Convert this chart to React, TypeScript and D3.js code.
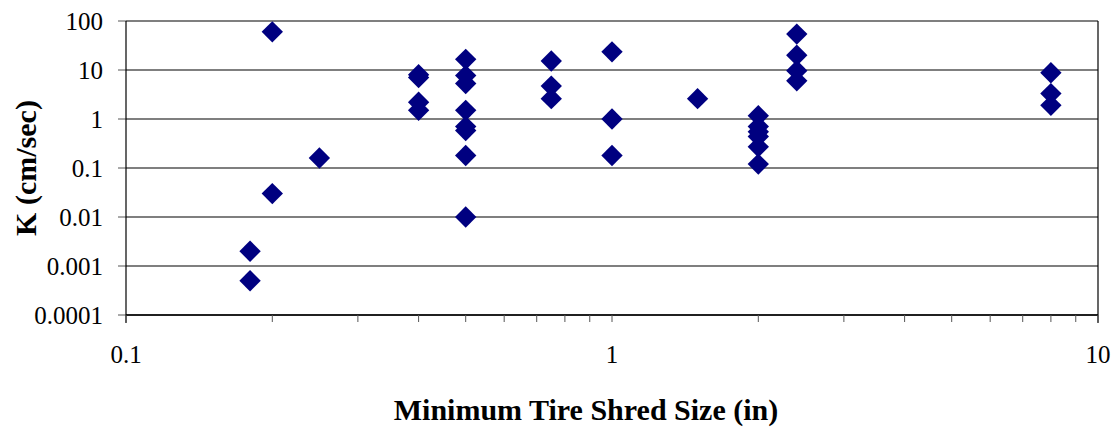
import React from "react";
import * as d3 from "d3";

const shredSize: number[] = [
  0.18, 0.18,
  0.2, 0.2,
  0.25,
  0.4, 0.4, 0.4, 0.4,
  0.5, 0.5, 0.5, 0.5, 0.5, 0.5, 0.5, 0.5,
  0.75, 0.75, 0.75,
  1, 1, 1,
  1.5,
  2, 2, 2, 2, 2, 2,
  2.4, 2.4, 2.4, 2.4,
  8, 8, 8,
];
const permeability: number[] = [
  0.002, 0.0005,
  60, 0.03,
  0.16,
  8, 7, 2.2, 1.5,
  16.5, 7.7, 5.3, 1.5, 0.7, 0.58, 0.18, 0.01,
  15.3, 4.7, 2.6,
  23.5, 1.0, 0.18,
  2.6,
  1.17, 0.7, 0.55, 0.44, 0.27, 0.12,
  54, 20, 9.7, 6.0,
  8.8, 3.3, 1.9,
];

const yTickValues: number[] = [0.0001, 0.001, 0.01, 0.1, 1, 10, 100];
const yTickLabels: string[] = ["0.0001", "0.001", "0.01", "0.1", "1", "10", "100"];
const xMajorValues: number[] = [0.1, 1, 10];
const xMajorLabels: string[] = ["0.1", "1", "10"];
const xMinorValues: number[] = [
  0.2, 0.3, 0.4, 0.5, 0.6, 0.7, 0.8, 0.9,
  2, 3, 4, 5, 6, 7, 8, 9,
];

const xTitle = "Minimum Tire Shred Size (in)";
const yTitle = "K (cm/sec)";

export default function App() {
  const W = 1120;
  const H = 430;
  const left = 126;
  const right = 1098;
  const top = 21;
  const bottom = 315;

  const x = d3.scaleLog().domain([0.1, 10]).range([left, right]);
  const y = d3.scaleLog().domain([0.0001, 100]).range([bottom, top]);

  const diamond = d3.symbol().type(d3.symbolSquare).size(228)();
  const font = "'Liberation Serif', 'Times New Roman', serif";

  return (
    <svg
      width={W}
      height={H}
      style={{ position: "absolute", left: 0, top: 0, background: "#fff" }}
    >
      <rect x={0} y={0} width={W} height={H} fill="#fff" />
      {/* horizontal gridlines */}
      {yTickValues.map((v, i) => (
        <line
          key={"g" + i}
          x1={left}
          x2={right}
          y1={y(v)}
          y2={y(v)}
          stroke="#000"
          strokeWidth={1.2}
        />
      ))}
      {/* y ticks */}
      {yTickValues.map((v, i) => (
        <line
          key={"yt" + i}
          x1={left - 8}
          x2={left}
          y1={y(v)}
          y2={y(v)}
          stroke="#555"
          strokeWidth={1}
        />
      ))}
      {/* axes */}
      <line x1={left} x2={left} y1={top} y2={bottom + 8} stroke="#000" strokeWidth={1.2} />
      <line x1={right} x2={right} y1={top} y2={bottom + 8} stroke="#000" strokeWidth={1.2} />
      <line x1={left} x2={right} y1={bottom} y2={bottom} stroke="#000" strokeWidth={1.6} />
      {/* x ticks */}
      {[...xMajorValues, ...xMinorValues].map((v, i) => (
        <line
          key={"xt" + i}
          x1={x(v)}
          x2={x(v)}
          y1={bottom}
          y2={bottom + 7}
          stroke="#555"
          strokeWidth={1}
        />
      ))}
      {/* y tick labels */}
      {yTickValues.map((v, i) => (
        <text
          key={"yl" + i}
          x={103}
          y={y(v) + 8.5}
          textAnchor="end"
          fontFamily={font}
          fontSize={25}
          fill="#000"
        >
          {yTickLabels[i]}
        </text>
      ))}
      {/* x tick labels */}
      {xMajorValues.map((v, i) => (
        <text
          key={"xl" + i}
          x={x(v)}
          y={363}
          textAnchor="middle"
          fontFamily={font}
          fontSize={25}
          fill="#000"
        >
          {xMajorLabels[i]}
        </text>
      ))}
      {/* points */}
      {shredSize.map((s, i) => (
        <path
          key={"p" + i}
          d={diamond || ""}
          transform={`translate(${x(s)},${y(permeability[i])}) rotate(45)`}
          fill="#000080"
        />
      ))}
      {/* titles */}
      <text
        x={586}
        y={420}
        textAnchor="middle"
        fontFamily={font}
        fontSize={30}
        fontWeight="bold"
        fill="#000"
      >
        {xTitle}
      </text>
      <text
        transform={`translate(36,${(top + bottom) / 2}) rotate(-90)`}
        textAnchor="middle"
        fontFamily={font}
        fontSize={30}
        fontWeight="bold"
        fill="#000"
      >
        {yTitle}
      </text>
    </svg>
  );
}
